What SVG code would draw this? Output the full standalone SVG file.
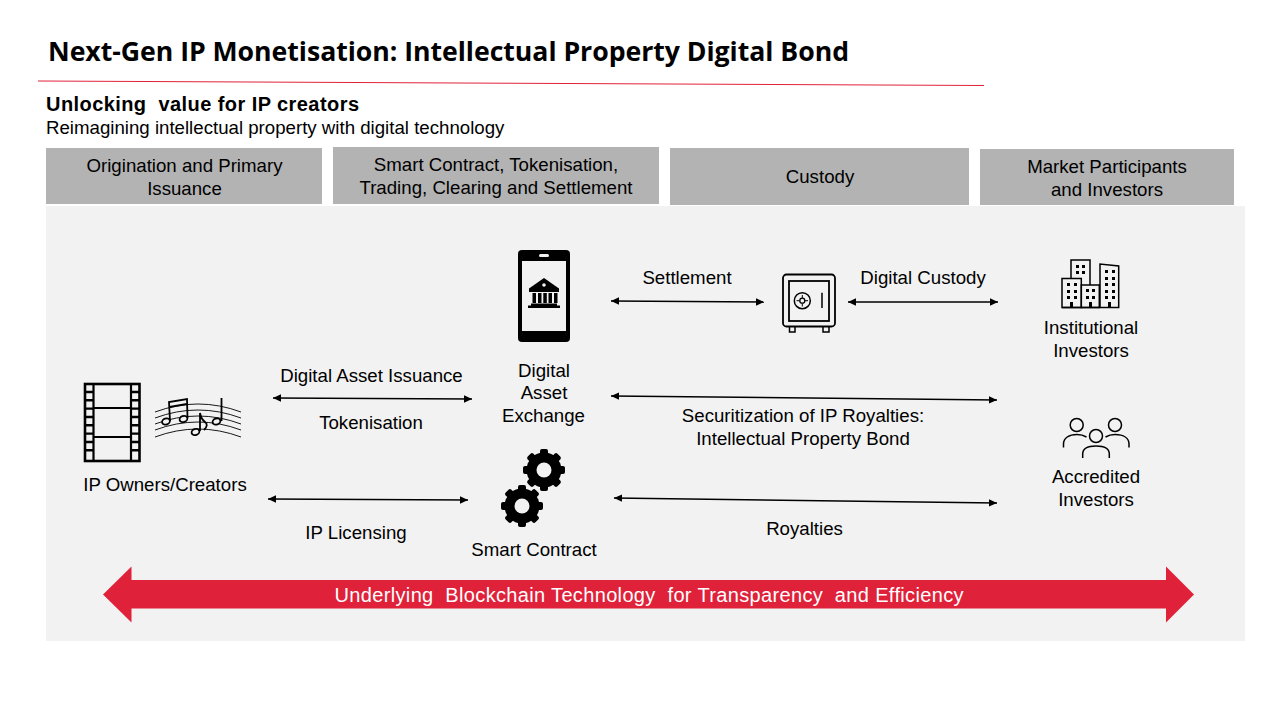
<svg xmlns="http://www.w3.org/2000/svg" width="1280" height="720" viewBox="0 0 1280 720">
<style>
text{font-family:"Liberation Sans",Arial,sans-serif;font-size:18.670px;fill:#000}
.c{text-anchor:middle}
.hd{fill:#b3b3b3}
.a{stroke:#000;stroke-width:1.500;fill:none;marker-start:url(#s);marker-end:url(#e)}
.o{fill:none;stroke:#000}
.h{fill:#f2f2f2;stroke:#000;stroke-width:1.800}
</style>
<defs>
<marker id="e" markerUnits="userSpaceOnUse" markerWidth="9" markerHeight="9" refX="8" refY="4.500" orient="auto"><path d="M0 .8L8 4.500L0 8.200z"/></marker>
<marker id="s" markerUnits="userSpaceOnUse" markerWidth="9" markerHeight="9" refX="1" refY="4.500" orient="auto"><path d="M9 .8L1 4.500L9 8.200z"/></marker>
<g id="gear">
<circle r="17.500"/>
<rect x="-4" y="-21" width="8" height="42" rx="2"/>
<rect x="-4" y="-21" width="8" height="42" rx="2" transform="rotate(45)"/>
<rect x="-4" y="-21" width="8" height="42" rx="2" transform="rotate(90)"/>
<rect x="-4" y="-21" width="8" height="42" rx="2" transform="rotate(135)"/>
<circle r="7.500" fill="#f2f2f2"/>
</g>
</defs>
<rect width="1280" height="720" fill="#fff"/>
<g id="title">
<text x="48" y="61" textLength="801" style="font-family:'Open Sans',sans-serif;font-size:26.670px;font-weight:700">Next-Gen IP Monetisation: Intellectual Property Digital Bond</text>
<path d="M38 81L984 85.500" stroke="#e0213a" stroke-width="1"/>
<text x="46" y="111" textLength="313" xml:space="preserve" style="font-weight:700;font-size:20px;white-space:pre">Unlocking  value for IP creators</text>
<text x="46" y="134">Reimagining intellectual property with digital technology</text>
</g>
<g id="panel"><rect x="46" y="206" width="1199" height="435" fill="#f2f2f2"/></g>
<g id="header-origination"><rect class="hd" x="46" y="148" width="276" height="56"/><text class="c" x="184.500" y="172">Origination and Primary</text><text class="c" x="184.500" y="195">Issuance</text></g>
<g id="header-contract"><rect class="hd" x="333" y="147" width="326" height="57"/><text class="c" x="496" y="171">Smart Contract, Tokenisation,</text><text class="c" x="496" y="194">Trading, Clearing and Settlement</text></g>
<g id="header-custody"><rect class="hd" x="670" y="148" width="299" height="57"/><text class="c" x="820" y="183">Custody</text></g>
<g id="header-market"><rect class="hd" x="980" y="149" width="254" height="56"/><text class="c" x="1107" y="173">Market Participants</text><text class="c" x="1107" y="196">and Investors</text></g>
<g id="connectors">
<path class="a" d="M611 301L764 302"/>
<path class="a" d="M848 302L998 302"/>
<path class="a" d="M273 398L472 399"/>
<path class="a" d="M611 396L997 400"/>
<path class="a" d="M268 499L468 500"/>
<path class="a" d="M614 498L997 503"/>
</g>
<g id="edge-labels">
<text class="c" x="687" y="284">Settlement</text>
<text class="c" x="923" y="284">Digital Custody</text>
<text class="c" x="371.500" y="382">Digital Asset Issuance</text>
<text class="c" x="371" y="429">Tokenisation</text>
<text class="c" x="803" y="422">Securitization of IP Royalties:</text>
<text class="c" x="803" y="445">Intellectual Property Bond</text>
<text class="c" x="356" y="539">IP Licensing</text>
<text class="c" x="804.500" y="535">Royalties</text>
</g>
<g id="ip-owners">
<rect class="o" x="85" y="384" width="54.500" height="77" stroke-width="2.600"/>
<path class="o" stroke-width="2.200" d="M93.500 384V461M131 384V461M93.500 408H131M93.500 437H131"/>
<path d="M86 392H93M86 400.300H93M86 408.600H93M86 417H93M86 425.300H93M86 433.600H93M86 442H93M86 450.300H93M132 392H139M132 400.300H139M132 408.600H139M132 417H139M132 425.300H139M132 433.600H139M132 442H139M132 450.300H139" stroke="#000" stroke-width="2.400" fill="none"/>
<path class="o" stroke-width=".9" d="M155 412Q198 396 241 412M155 418Q198 402 241 418M155 424Q198 408 241 424M155 430Q198 414 241 430M155 437Q198 421 241 437"/>
<path class="o" stroke-width="1.800" d="M170 421L169 402L187 399L187.500 418M169.500 407L187 404M200 413V431M200 413Q201 419 205 422T204 430M221.500 398V421"/>
<ellipse class="h" cx="166" cy="421.500" rx="4" ry="3" transform="rotate(-20 166 421.500)"/>
<ellipse class="h" cx="183.500" cy="419" rx="4" ry="3" transform="rotate(-20 183.500 419)"/>
<ellipse class="h" cx="195.500" cy="432" rx="4" ry="3" transform="rotate(-20 195.500 432)"/>
<ellipse class="h" cx="216.500" cy="421.500" rx="4" ry="3" transform="rotate(-20 216.500 421.500)"/>
<text class="c" x="165" y="491">IP Owners/Creators</text>
</g>
<g id="digital-asset-exchange">
<rect x="518" y="250" width="52" height="92" rx="4"/>
<rect x="522" y="261" width="44" height="70" fill="#f2f2f2"/>
<rect x="539" y="254" width="10" height="3" rx="1.500" fill="#f2f2f2"/>
<path d="M544 278L559 288.500V292H529V288.500z"/>
<circle cx="544" cy="285" r="1.800" fill="#f2f2f2"/>
<path d="M532.500 293H536V303H532.500zM538 293H541.500V303H538zM543.300 293H546.800V303H543.300zM548.500 293H552V303H548.500zM554 293H557.500V303H554zM531 303.500H557V305.500H531zM528 305.500H560V308H528z"/>
<text class="c" x="544" y="377">Digital</text>
<text class="c" x="544" y="399">Asset</text>
<text class="c" x="543.500" y="422">Exchange</text>
</g>
<g id="custody">
<rect class="o" x="783" y="274.500" width="52" height="52" rx="3.500" stroke-width="1.800"/>
<rect class="o" x="789" y="281" width="40" height="40" stroke-width="1.800"/>
<circle class="o" cx="802.300" cy="300.700" r="8" stroke-width="1.500"/>
<circle class="o" cx="802.300" cy="300.700" r="2.500" stroke-width="1.300"/>
<path class="o" stroke-width="1" d="M802.300 295V298M802.300 303.500V306.500M796.500 300.700H799.500M805 300.700H808"/>
<path class="o" stroke-width="1.500" d="M822 292.700V308M789.500 327V332H795V327M823 327V332H829V327"/>
</g>
<g id="institutional-investors">
<g class="o" stroke-width="1.500">
<path d="M1071 278V260H1090V285"/>
<rect x="1062" y="278.500" width="19.300" height="29"/>
<rect x="1081.300" y="285" width="18" height="22.500"/>
<path d="M1100 307.500V264L1118.700 266V307.500H1062"/>
</g>
<path d="M1076 265h3v3h-3zM1082 265h3v3h-3zM1076 271h3v3h-3zM1082 271h3v3h-3zM1067 283h3v3h-3zM1074 283h3v3h-3zM1067 290h3v3h-3zM1074 290h3v3h-3zM1067 296h3v3h-3zM1074 296h3v3h-3zM1086 289h3v3h-3zM1092 289h3v3h-3zM1086 296h3v3h-3zM1092 296h3v3h-3zM1105 270h3v3h-3zM1112 270h3v3h-3zM1105 277h3v3h-3zM1112 277h3v3h-3zM1105 283h3v3h-3zM1112 283h3v3h-3zM1105 290h3v3h-3zM1112 290h3v3h-3zM1105 296h3v3h-3zM1112 296h3v3h-3zM1070 302h3v5h-3zM1089 302h3v5h-3zM1108 302h3v5h-3z"/>
<text class="c" x="1091" y="334">Institutional</text>
<text class="c" x="1091" y="357">Investors</text>
</g>
<g id="accredited-investors">
<g class="o" stroke-width="1.500">
<circle cx="1076.700" cy="425" r="6.500"/><circle cx="1115" cy="425" r="6.500"/><circle cx="1096" cy="436" r="6.500"/>
<path d="M1063.500 447.500V444C1063.500 438 1069 434.500 1077 434.500C1081 434.500 1084 435.500 1086.500 437M1129 447.500V444C1129 438 1123.500 434.500 1115 434.500C1111 434.500 1108 435.500 1105.500 437M1082.700 458V454C1082.700 448 1088.500 446 1096 446S1109.300 448 1109.300 454V458"/>
</g>
<text class="c" x="1096" y="483">Accredited</text>
<text class="c" x="1096" y="506">Investors</text>
</g>
<g id="smart-contract">
<use href="#gear" x="544" y="470"/>
<use href="#gear" x="522" y="506"/>
<text class="c" x="534" y="556">Smart Contract</text>
</g>
<g id="blockchain-arrow">
<path d="M103 594.500L131.500 566.500V580H1166V566.500L1194 594.500L1166 622.500V608.500H131.500V622.500z" fill="#e0213a"/>
<text class="c" x="649" y="602" textLength="629" xml:space="preserve" style="fill:#fff;font-size:20px;white-space:pre">Underlying  Blockchain Technology  for Transparency  and Efficiency</text>
</g>
</svg>
